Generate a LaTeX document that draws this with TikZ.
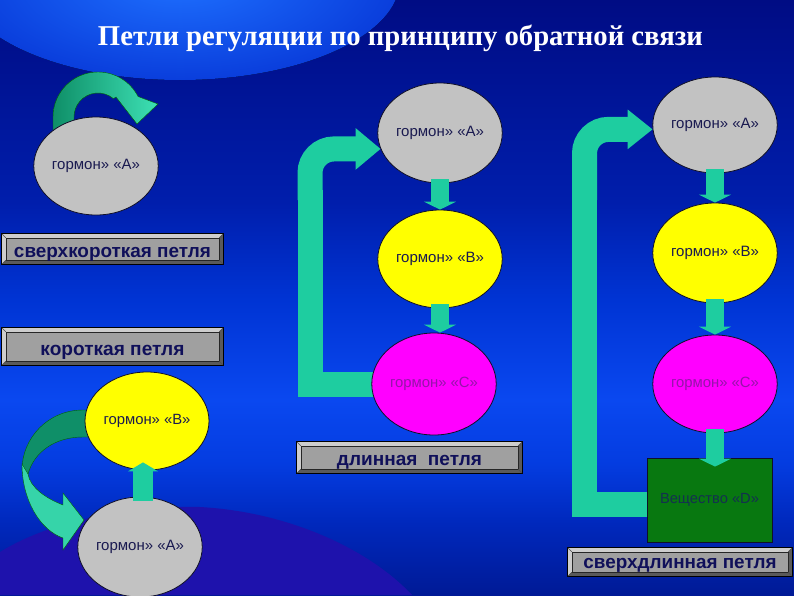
\documentclass[tikz,border=0pt]{standalone}
\usepackage{graphicx}
\usepackage{fontspec}
\setmainfont{Liberation Sans}
\newfontfamily\titlefont{Liberation Serif}
\usetikzlibrary{shapes.geometric,arrows.meta,calc}
\pgfdeclarelayer{bgl}
\pgfdeclarelayer{loops}
\pgfsetlayers{bgl,loops,main}
\definecolor{bgA}{RGB}{0,12,132}
\definecolor{bgB}{RGB}{0,30,172}
\definecolor{bgC}{RGB}{0,52,212}
\definecolor{bgD}{RGB}{10,72,240}
\definecolor{bgE}{RGB}{4,60,224}
\definecolor{bgF}{RGB}{0,40,188}
\definecolor{bgG}{RGB}{0,26,150}
\definecolor{glowin}{RGB}{30,112,255}
\definecolor{glowout}{RGB}{10,62,220}
\definecolor{botdark}{RGB}{30,18,172}
\definecolor{flowc}{RGB}{30,205,160}
\definecolor{loopdark}{RGB}{15,143,104}
\definecolor{looplight}{RGB}{61,224,180}
\definecolor{ellgray}{RGB}{194,194,194}
\definecolor{ellyellow}{RGB}{255,255,0}
\definecolor{ellmagenta}{RGB}{255,0,255}
\definecolor{edgec}{RGB}{16,16,40}
\definecolor{hormtext}{RGB}{26,26,80}
\definecolor{magtext}{RGB}{150,20,170}
\definecolor{dgreen}{RGB}{8,120,16}
\definecolor{dtext}{RGB}{20,48,80}
\definecolor{boxgray}{RGB}{160,160,160}
\definecolor{bevlight}{RGB}{205,205,205}
\definecolor{bevdark}{RGB}{90,90,90}
\definecolor{boxtext}{RGB}{16,16,90}
\pgfdeclareverticalshading{bgshade}{100bp}{color(0bp)=(bgG); color(25bp)=(bgG); color(31bp)=(bgF); color(36bp)=(bgE); color(41.4bp)=(bgD); color(49.8bp)=(bgC); color(58bp)=(bgB); color(75bp)=(bgA); color(100bp)=(bgA)}
\newcommand{\htext}[2]{\resizebox{#1}{!}{#2}}
\newcommand{\lbl}[2]{\resizebox{#1}{!}{\bfseries #2}}
\newcommand{\boxbg}[1]{%
  \fill[boxgray] (#1.south west) rectangle (#1.north east);
  \fill[bevlight] (#1.north west) -- (#1.north east) -- ([shift={(-4pt,-4pt)}]#1.north east) -- ([shift={(4pt,-4pt)}]#1.north west) -- ([shift={(4pt,4pt)}]#1.south west) -- (#1.south west) -- cycle;
  \fill[bevdark] (#1.south east) -- (#1.north east) -- ([shift={(-4pt,-4pt)}]#1.north east) -- ([shift={(-4pt,4pt)}]#1.south east) -- ([shift={(4pt,4pt)}]#1.south west) -- (#1.south west) -- cycle;
  \draw[black,line width=0.8pt] (#1.south west) rectangle (#1.north east);
  \draw[black!85,line width=0.6pt] ([shift={(4pt,4pt)}]#1.south west) rectangle ([shift={(-4pt,-4pt)}]#1.north east);
  \draw[black!70,line width=0.4pt] (#1.north west) -- ([shift={(4pt,-4pt)}]#1.north west) (#1.north east) -- ([shift={(-4pt,-4pt)}]#1.north east) (#1.south west) -- ([shift={(4pt,4pt)}]#1.south west) (#1.south east) -- ([shift={(-4pt,4pt)}]#1.south east);}
\tikzset{
  horm/.style={ellipse, draw=edgec, line width=0.8pt, inner sep=0pt, minimum width=124pt, minimum height=98pt, text=hormtext},
  grayell/.style={horm, fill=ellgray},
  yellell/.style={horm, fill=ellyellow},
  magell/.style={horm, fill=ellmagenta, text=magtext},
  flow/.style={draw=flowc, line width=18pt, shorten <=-4pt, -{Triangle[width=32pt 0 0, length=8pt 0 0]}},
  loopband/.style={draw=flowc, line width=25pt, line join=miter},
  labelbox/.style={rectangle, inner sep=0pt, text=boxtext, text depth=0pt}
}
\begin{document}
\begin{tikzpicture}[x=1pt,y=-1pt]
\useasboundingbox (0,0) rectangle (794,595);
% title
\node[text=white, anchor=base, inner sep=0pt] (title) at (400.5,45.5) {\resizebox{605pt}{!}{\titlefont\bfseries Петли регуляции по принципу обратной связи}};
% ellipses
\node[grayell] (a1) at (96,166) {\htext{88pt}{гормон» «А»}};
\node[yellell] (b1) at (147,421) {\htext{87pt}{гормон» «В»}};
\node[grayell, minimum height=100pt] (a4) at (140,547) {\htext{88pt}{гормон» «А»}};
\node[grayell, minimum height=100pt] (a2) at (440,133) {\htext{88pt}{гормон» «А»}};
\node[yellell] (b2) at (440,259) {\htext{88pt}{гормон» «В»}};
\node[magell, minimum height=102pt] (c2) at (434,384) {\htext{88pt}{гормон» «С»}};
\node[grayell, minimum height=96pt] (a3) at (715,125) {\htext{88pt}{гормон» «А»}};
\node[yellell, minimum height=100pt] (b3) at (715,253) {\htext{88pt}{гормон» «В»}};
\node[magell] (c3) at (715,384) {\htext{88pt}{гормон» «С»}};
\node[rectangle, fill=dgreen, draw=edgec, line width=0.8pt, minimum width=125pt, minimum height=84pt, inner sep=0pt, text=dtext] (d3) at (709.5,500) {\htext{99pt}{Вещество «D»}};
% labels
\node[labelbox, minimum width=221pt, minimum height=30pt, text height=16pt] (s1) at (112.5,249) {\lbl{197pt}{сверхкороткая петля}};
\node[labelbox, minimum width=221pt, minimum height=37pt, text height=17pt] (s2) at (112.5,346.5) {\lbl{144pt}{короткая петля}};
\node[labelbox, minimum width=225pt, minimum height=31pt, text height=15pt] (s3) at (409.5,457.5) {\lbl{145pt}{длинная~ петля}};
\node[labelbox, minimum width=224pt, minimum height=28pt, text height=12pt] (s4) at (680,562) {\lbl{193pt}{сверхдлинная петля}};
% small arrows
\draw[flow] (a2.south) -- (b2.north);
\draw[flow] (b2.south) -- (b2.south |- c2.north);
\draw[flow] (a3.south) -- (b3.north);
\draw[flow] (b3.south) -- (c3.north);
\draw[flow, shorten >=-9pt] (c3.south) -- (c3.south |- d3.north);
\draw[flow, line width=20pt, shorten >=-8pt, -{Triangle[width=30pt 0 0, length=9pt 0 0]}] ([xshift=3pt]a4.north) -- ([xshift=3pt]a4.north |- b1.south);
% background
\begin{pgfonlayer}{bgl}
\shade[shading=bgshade] (0,0) rectangle (794,595);
\fill[inner color=glowin, outer color=glowout] (180,-20) ellipse [x radius=220, y radius=100];
\fill[botdark] (0,552) .. controls (60,515) and (150,505) .. (200,507) .. controls (290,512) and (370,550) .. (412,595) -- (0,595) -- cycle;
\end{pgfonlayer}
% loops and label boxes
\begin{pgfonlayer}{loops}
\boxbg{s1}
\boxbg{s2}
\boxbg{s3}
\boxbg{s4}
% super-short loop
\shade[left color=loopdark, right color=looplight, draw=black!60!green, line width=0.4pt]
  (53,130) -- (53,117) arc[start angle=180, end angle=333, radius=45] -- (158,104) -- (137,124) -- (116,97) -- (113.4,98.6) arc[start angle=310, end angle=180, radius=24] -- (74,130) -- cycle;
% short loop (two faces)
\fill[loopdark, draw=black!60!green, line width=0.4pt] (95,410) -- (83,410) .. controls (48,410) and (22,438) .. (22,470) -- (28,474) .. controls (34,452) and (55,437) .. (83,437) -- (95,437) -- cycle;
\fill[looplight!85!loopdark, draw=black!60!green, line width=0.4pt] (22,464) .. controls (22,500) and (40,530) .. (63,538) -- (63,550) -- (84,520) -- (63,493) -- (63,505) .. controls (45,498) and (30,487) .. (28,474) -- cycle;
% long loop
\draw[loopband] ([xshift=10pt]c2.west) -| (310,190);
\draw[loopband, rounded corners=24pt, -{Triangle[width=40pt 0 0, length=25pt 0 0]}] (310,200) |- (a2.195);
% extra-long loop
\draw[loopband] ([xshift=10pt, yshift=-4pt]d3.west) -| (584.5,190);
\draw[loopband, rounded corners=24pt, -{Triangle[width=38pt 0 0, length=25pt 0 0]}] (584.5,200) |- (a3.184);
\end{pgfonlayer}
\end{tikzpicture}
\end{document}
